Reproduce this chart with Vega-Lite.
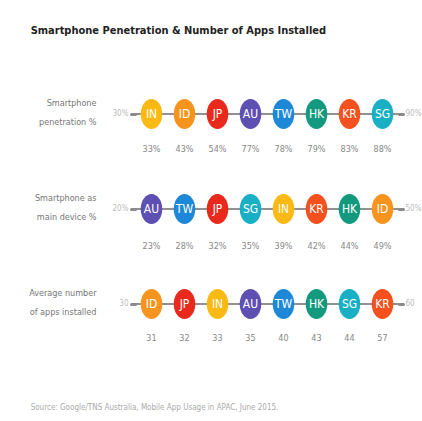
{
  "$schema": "https://vega.github.io/schema/vega-lite/v6.json",
  "background": "white",
  "padding": {"left": 28, "top": 25, "right": 2, "bottom": 5},
  "title": {
    "text": "Smartphone Penetration & Number of Apps Installed",
    "anchor": "start",
    "font": "DejaVu Sans Condensed, Roboto, sans-serif",
    "fontSize": 11,
    "fontWeight": "bold",
    "color": "#222222",
    "offset": 48,
    "dx": 2
  },
  "datasets": {
    "pen": [
      {"country": "IN", "value": 33},
      {"country": "ID", "value": 43},
      {"country": "JP", "value": 54},
      {"country": "AU", "value": 77},
      {"country": "TW", "value": 78},
      {"country": "HK", "value": 79},
      {"country": "KR", "value": 83},
      {"country": "SG", "value": 88}
    ],
    "main": [
      {"country": "AU", "value": 23},
      {"country": "TW", "value": 28},
      {"country": "JP", "value": 32},
      {"country": "SG", "value": 35},
      {"country": "IN", "value": 39},
      {"country": "KR", "value": 42},
      {"country": "HK", "value": 44},
      {"country": "ID", "value": 49}
    ],
    "apps": [
      {"country": "ID", "value": 31},
      {"country": "JP", "value": 32},
      {"country": "IN", "value": 33},
      {"country": "AU", "value": 35},
      {"country": "TW", "value": 40},
      {"country": "HK", "value": 43},
      {"country": "SG", "value": 44},
      {"country": "KR", "value": 57}
    ],
    "ends": [
      {"metric": "pen", "lo": "30%", "hi": "90%"},
      {"metric": "main", "lo": "20%", "hi": "50%"},
      {"metric": "apps", "lo": "30", "hi": "60"}
    ]
  },
  "config": {
    "view": {"stroke": null},
    "font": "DejaVu Sans Condensed, Roboto, sans-serif",
    "axisLeft": {
      "domain": false,
      "ticks": true,
      "tickSize": 4,
      "tickWidth": 3,
      "tickCap": "round",
      "tickColor": "#8a8a8a",
      "labelFont": "DejaVu Sans Condensed, Roboto, sans-serif",
      "labelFontSize": 8,
      "labelColor": "#bbbbbb",
      "labelPadding": 3,
      "titleAngle": 0,
      "titleAlign": "right",
      "titleBaseline": "middle",
      "titleX": -39,
      "titleY": 18,
      "titleFont": "DejaVu Sans Condensed, Roboto, sans-serif",
      "titleFontSize": 9,
      "titleFontWeight": "normal",
      "titleColor": "#777777",
      "titleLineHeight": 19
    },
    "axisRight": {
      "domain": false,
      "ticks": true,
      "tickSize": 4,
      "tickWidth": 3,
      "tickCap": "round",
      "tickColor": "#8a8a8a",
      "labelFont": "DejaVu Sans Condensed, Roboto, sans-serif",
      "labelFontSize": 8,
      "labelColor": "#bbbbbb",
      "labelPadding": 2,
      "title": null
    }
  },
  "bounds": "flush",
  "spacing": 35,
  "resolve": {"scale": {"x": "independent", "y": "independent"}},
  "vconcat": [
    {
      "width": 264,
      "height": 60,
      "layer": [
        {
          "data": {"name": "ends"},
          "transform": [{"filter": "datum.metric == 'pen'"}],
          "mark": {"type": "rule", "color": "#8a8a8a", "strokeWidth": 1.5},
          "encoding": {"y": {"field": "lo", "type": "nominal", "axis": {"orient": "left", "title": ["Smartphone", "penetration %"]}}}
        },
        {
          "data": {"name": "ends"},
          "transform": [{"filter": "datum.metric == 'pen'"}],
          "mark": {"type": "rule", "color": "#8a8a8a", "strokeWidth": 1.5},
          "encoding": {"y": {"field": "hi", "type": "nominal", "axis": {"orient": "right"}}}
        },
        {
          "data": {"name": "pen"},
          "transform": [{"calculate": "datum.value + '%'", "as": "label"}],
          "encoding": {
            "x": {"field": "country", "type": "nominal", "sort": {"field": "value", "op": "sum", "order": "ascending"}, "scale": {"type": "point", "padding": 0.5}, "axis": null}
          },
          "layer": [
            {
              "mark": {"type": "point", "shape": "M0,-1A0.72,1 0 1,1 0,1A0.72,1 0 1,1 0,-1Z", "size": 900, "filled": true, "opacity": 1},
              "encoding": {"color": {"field": "country", "type": "nominal", "legend": null, "scale": {"domain": ["IN", "ID", "JP", "AU", "TW", "HK", "KR", "SG"], "range": ["#fbb913", "#f7941d", "#e8291c", "#5e4fb3", "#1e88d8", "#139a7e", "#f4511e", "#19afc4"]}}}
            },
            {
              "mark": {"type": "text", "color": "white", "fontSize": 12, "baseline": "middle", "align": "center"},
              "encoding": {"text": {"field": "country"}}
            },
            {
              "mark": {"type": "text", "color": "#888888", "fontSize": 9, "baseline": "middle", "align": "center", "dy": 35},
              "encoding": {"text": {"field": "label"}}
            }
          ]
        }
      ],
      "resolve": {"scale": {"y": "independent"}, "axis": {"y": "independent"}}
    },
    {
      "width": 264,
      "height": 60,
      "layer": [
        {
          "data": {"name": "ends"},
          "transform": [{"filter": "datum.metric == 'main'"}],
          "mark": {"type": "rule", "color": "#8a8a8a", "strokeWidth": 1.5},
          "encoding": {"y": {"field": "lo", "type": "nominal", "axis": {"orient": "left", "title": ["Smartphone as", "main device %"]}}}
        },
        {
          "data": {"name": "ends"},
          "transform": [{"filter": "datum.metric == 'main'"}],
          "mark": {"type": "rule", "color": "#8a8a8a", "strokeWidth": 1.5},
          "encoding": {"y": {"field": "hi", "type": "nominal", "axis": {"orient": "right"}}}
        },
        {
          "data": {"name": "main"},
          "transform": [{"calculate": "datum.value + '%'", "as": "label"}],
          "encoding": {
            "x": {"field": "country", "type": "nominal", "sort": {"field": "value", "op": "sum", "order": "ascending"}, "scale": {"type": "point", "padding": 0.5}, "axis": null}
          },
          "layer": [
            {
              "mark": {"type": "point", "shape": "M0,-1A0.72,1 0 1,1 0,1A0.72,1 0 1,1 0,-1Z", "size": 900, "filled": true, "opacity": 1},
              "encoding": {"color": {"field": "country", "type": "nominal", "legend": null, "scale": {"domain": ["IN", "ID", "JP", "AU", "TW", "HK", "KR", "SG"], "range": ["#fbb913", "#f7941d", "#e8291c", "#5e4fb3", "#1e88d8", "#139a7e", "#f4511e", "#19afc4"]}}}
            },
            {
              "mark": {"type": "text", "color": "white", "fontSize": 12, "baseline": "middle", "align": "center"},
              "encoding": {"text": {"field": "country"}}
            },
            {
              "mark": {"type": "text", "color": "#888888", "fontSize": 9, "baseline": "middle", "align": "center", "dy": 37},
              "encoding": {"text": {"field": "label"}}
            }
          ]
        }
      ],
      "resolve": {"scale": {"y": "independent"}, "axis": {"y": "independent"}}
    },
    {
      "width": 264,
      "height": 60,
      "title": {
        "text": "Source: Google/TNS Australia, Mobile App Usage in APAC, June 2015.",
        "orient": "bottom",
        "anchor": "start",
        "font": "DejaVu Sans Condensed, Roboto, sans-serif",
        "fontSize": 8,
        "fontWeight": "normal",
        "color": "#aaaaaa",
        "offset": 61,
        "dx": 2
      },
      "layer": [
        {
          "data": {"name": "ends"},
          "transform": [{"filter": "datum.metric == 'apps'"}],
          "mark": {"type": "rule", "color": "#8a8a8a", "strokeWidth": 1.5},
          "encoding": {"y": {"field": "lo", "type": "nominal", "axis": {"orient": "left", "title": ["Average number", "of apps installed"]}}}
        },
        {
          "data": {"name": "ends"},
          "transform": [{"filter": "datum.metric == 'apps'"}],
          "mark": {"type": "rule", "color": "#8a8a8a", "strokeWidth": 1.5},
          "encoding": {"y": {"field": "hi", "type": "nominal", "axis": {"orient": "right"}}}
        },
        {
          "data": {"name": "apps"},
          "transform": [{"calculate": "'' + datum.value", "as": "label"}],
          "encoding": {
            "x": {"field": "country", "type": "nominal", "sort": {"field": "value", "op": "sum", "order": "ascending"}, "scale": {"type": "point", "padding": 0.5}, "axis": null}
          },
          "layer": [
            {
              "mark": {"type": "point", "shape": "M0,-1A0.72,1 0 1,1 0,1A0.72,1 0 1,1 0,-1Z", "size": 900, "filled": true, "opacity": 1},
              "encoding": {"color": {"field": "country", "type": "nominal", "legend": null, "scale": {"domain": ["IN", "ID", "JP", "AU", "TW", "HK", "KR", "SG"], "range": ["#fbb913", "#f7941d", "#e8291c", "#5e4fb3", "#1e88d8", "#139a7e", "#f4511e", "#19afc4"]}}}
            },
            {
              "mark": {"type": "text", "color": "white", "fontSize": 12, "baseline": "middle", "align": "center"},
              "encoding": {"text": {"field": "country"}}
            },
            {
              "mark": {"type": "text", "color": "#888888", "fontSize": 9, "baseline": "middle", "align": "center", "dy": 34},
              "encoding": {"text": {"field": "label"}}
            }
          ]
        }
      ],
      "resolve": {"scale": {"y": "independent"}, "axis": {"y": "independent"}}
    }
  ]
}
